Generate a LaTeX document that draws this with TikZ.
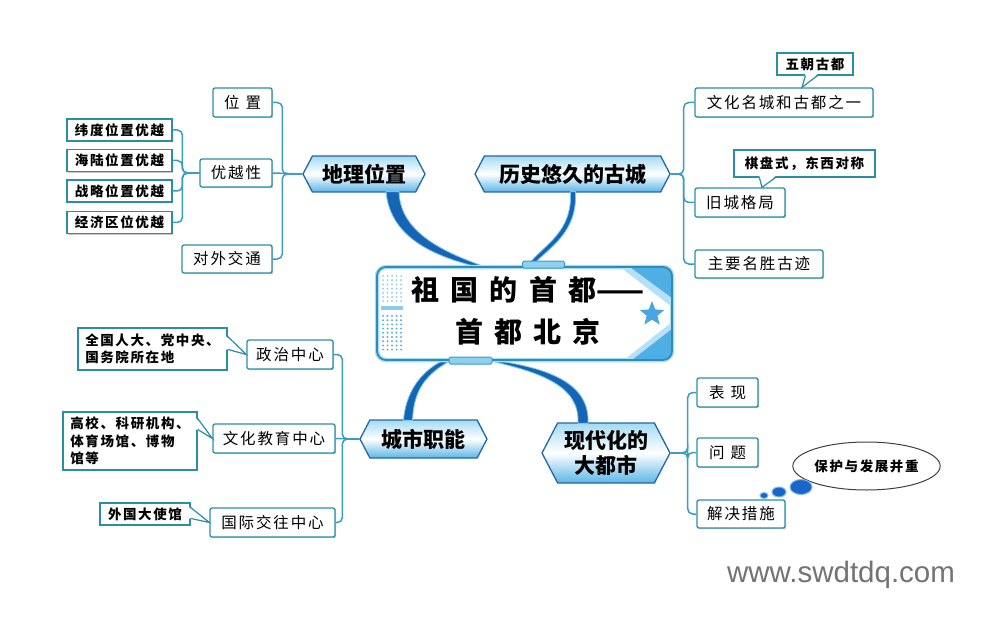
\documentclass[tikz,border=0pt]{standalone}
\usepackage{fontspec}
\setmainfont{Noto Sans CJK SC}
\newfontfamily\cjk{Noto Sans CJK SC}[LetterSpace=12]
\newfontfamily\cjkc{Noto Sans CJK SC}[LetterSpace=12]
\newfontfamily\cjkm{Noto Sans CJK SC}
\newfontfamily\cjkt{Noto Sans CJK SC}[LetterSpace=40]
\newfontfamily\wm{Liberation Sans}
\usetikzlibrary{shapes.geometric,shapes.symbols,calc,shadows}
\definecolor{leafc}{HTML}{2B8FA3}
\definecolor{connc}{HTML}{3A9CC0}
\definecolor{brc}{HTML}{2468A8}
\definecolor{tapc}{HTML}{1565B5}
\definecolor{tapl}{HTML}{7CC4EE}
\definecolor{boxc}{HTML}{2E8CB8}
\definecolor{boxglow}{HTML}{A8DDF3}
\definecolor{dotc}{HTML}{8CCBEB}
\definecolor{dotd}{HTML}{5AAEE0}
\definecolor{tric}{HTML}{4FAEE3}
\definecolor{tril}{HTML}{B5E0F5}
\definecolor{starc}{HTML}{4AA6DF}
\definecolor{bubc}{HTML}{1A66C8}
\definecolor{bube}{HTML}{7DBDEB}
\definecolor{tabc}{HTML}{8FD0EE}
\definecolor{shtop}{HTML}{A5DAF2}
\definecolor{shbot}{HTML}{5CB6E6}
\begin{document}
\begin{tikzpicture}[x=1pt,y=-1pt,
  shad/.style={drop shadow={shadow xshift=1.2pt,shadow yshift=-1.2pt,fill=black,opacity=0.22}},
  leaf/.style={shad,draw=leafc,line width=1.3pt,fill=white,rounded corners=2pt,inner sep=0pt,
    minimum height=29,font=\cjk\fontsize{15.5}{18}\selectfont},
  note/.style={shad,draw=leafc,line width=1.2pt,fill=white,inner sep=0pt,
    font=\cjkc\bfseries\fontsize{13.5}{17}\selectfont},
  branch/.style={signal,signal to=west and east,signal pointer angle=125,draw=brc,line width=1.3pt,
    top color=shtop,bottom color=shbot,middle color=white,inner sep=0pt,
    font=\cjkm\bfseries\fontsize{21}{24}\selectfont},
  conn/.style={draw=connc,line width=1.5pt,rounded corners=5pt},
  taper/.style={fill=tapc,draw=tapl,line width=0.8pt},
  ptr/.style={draw=leafc,line width=1.2pt},
  bub/.style={ellipse,fill=bubc,draw=bube,line width=1pt,inner sep=0pt}
]
\useasboundingbox (0,0) rectangle (984,620);
\fill[white] (0,0) rectangle (984,620);

% ---------- main branches ----------
\node[branch,minimum width=122,minimum height=36] (geo) at (364,174) {地理位置};
\node[branch,minimum width=195,minimum height=36] (hist) at (572.5,174) {历史悠久的古城};
\node[branch,minimum width=127,minimum height=38] (city) at (423.5,439) {城市职能};
\node[branch,minimum width=128,minimum height=60,align=center,font=\cjkm\bfseries\fontsize{21}{25}\selectfont] (modern) at (606,453) {现代化的\\大都市};

% ---------- centre box ----------
\coordinate (cnw) at (377,267);
\coordinate (cse) at (672,360);
\node[minimum width=42,minimum height=7,inner sep=0pt] (tabtop) at (543.5,264.5) {};
\node[minimum width=43,minimum height=7,inner sep=0pt] (tabbot) at (470.5,360.5) {};

% tapered connectors
\path[taper] ($(geo.south)+(22,-1)$) .. controls ($(geo.south)+(26,40)$) and ($(geo.south)+(60,62)$) .. ($(cnw)+(105,1)$)
  -- ($(cnw)+(112,1)$) .. controls ($(geo.south)+(72,58)$) and ($(geo.south)+(36,36)$) .. ($(geo.south)+(35,-1)$) -- cycle;
\path[taper] ($(hist.south)+(-2,-1)$) .. controls ($(hist.south)+(0,40)$) and ($(tabtop.west)+(22,-20)$) .. ($(tabtop.west)+(6,0)$)
  -- ($(tabtop.west)+(11,0)$) .. controls ($(tabtop.west)+(28,-18)$) and ($(hist.south)+(5,40)$) .. ($(hist.south)+(3,-1)$) -- cycle;
\path[taper] ($(tabbot.west)+(-6,0)$) .. controls ($(tabbot.west)+(-30,12)$) and ($(city.north)+(-18,-25)$) .. ($(city.north)+(-20,1)$)
  -- ($(city.north)+(-11,1)$) .. controls ($(city.north)+(-10,-28)$) and ($(tabbot.west)+(-24,14)$) .. ($(tabbot.west)+(2,0)$) -- cycle;
\path[taper] ($(tabbot.east)+(-4,0)$) .. controls ($(tabbot.east)+(50,12)$) and ($(modern.north)+(-26,-36)$) .. ($(modern.north)+(-28,1)$)
  -- ($(modern.north)+(-18,1)$) .. controls ($(modern.north)+(-16,-40)$) and ($(tabbot.east)+(55,8)$) .. ($(tabbot.east)+(4,0)$) -- cycle;

% box
\path[fill=white,draw=boxglow,line width=4.5pt,rounded corners=9pt] (cnw) rectangle (cse);
\begin{scope}
  \clip[rounded corners=9pt] (cnw) rectangle (cse);
  \fill[tril] ($(cnw)+(243,0)$) -- ($(cse|-cnw)$) -- ($(cse|-cnw)+(0,40)$) -- cycle;
  \fill[tric] ($(cnw)+(253,0)$) -- ($(cse|-cnw)$) -- ($(cse|-cnw)+(0,31)$) -- cycle;
  \fill[tril] ($(cse)+(-48,0)$) -- ($(cse)+(0,-38)$) -- (cse) -- cycle;
  \fill[tric] ($(cse)+(-40,0)$) -- ($(cse)+(0,-31)$) -- (cse) -- cycle;
  \foreach \i in {0,...,4}{
    \foreach \j in {0,...,6}{
      \fill[dotc] ($(cnw)+(6+\i*4.5,9+\j*4.2)$) circle (1pt);
    }
    \foreach \j in {0,...,8}{
      \fill[dotd] ($(cnw)+(6+\i*4.5,49+\j*4.2)$) circle (1.1pt);
    }
  }
  \fill[dotc] ($(cnw)+(4,39)$) rectangle ++(22,4);
\end{scope}
\draw[boxc,line width=1.8pt,rounded corners=9pt] (cnw) rectangle (cse);
\node[star,star points=5,star point ratio=2.3,fill=starc,minimum size=26,inner sep=0pt] (star) at ($(cse|-cnw)+(-20,47)$) {};
\node[fill=tabc,draw=connc,line width=1pt,rounded corners=1.5pt,minimum width=42,minimum height=7,inner sep=0pt] at (tabtop) {};
\node[fill=tabc,draw=connc,line width=1pt,rounded corners=1.5pt,minimum width=43,minimum height=7,inner sep=0pt] at (tabbot) {};
\node[align=center,inner sep=0pt,font=\cjkt\bfseries\fontsize{28}{42}\selectfont] (ctr) at (528,311)
  {祖国的首都{\addfontfeature{LetterSpace=0}——}\\首都北京};

% ---------- 地理位置 ----------
\node[leaf,minimum width=59] (wz) at (242.5,102.5) {位\hspace{6pt}置};
\node[leaf,minimum width=72,minimum height=28] (yx) at (236,173) {优越性};
\node[leaf,minimum width=90,minimum height=28] (dw) at (227,259) {对外交通};
\node[note,minimum width=105,minimum height=22] (s1) at (119.5,130) {纬度位置优越};
\node[note,minimum width=105,minimum height=22] (s2) at (119.5,160.5) {海陆位置优越};
\node[note,minimum width=105,minimum height=22] (s3) at (119.5,191) {战略位置优越};
\node[note,minimum width=105,minimum height=22] (s4) at (119.5,222.5) {经济区位优越};
\draw[conn] (geo.west) -- ++(-20,0) |- (wz.east);
\draw[conn] (geo.west) -- (yx.east);
\draw[conn] (geo.west) -- ++(-20,0) |- (dw.east);
\draw[conn] (yx.west) -- ++(-17,0) |- (s1.east);
\draw[conn] (yx.west) -- ++(-17,0) |- (s2.east);
\draw[conn] (yx.west) -- ++(-17,0) |- (s3.east);
\draw[conn] (yx.west) -- ++(-17,0) |- (s4.east);

% ---------- 历史悠久的古城 ----------
\node[leaf,minimum width=178] (h1) at (784,102.5) {文化名城和古都之一};
\node[leaf,minimum width=90] (h2) at (740,202.5) {旧城格局};
\node[leaf,minimum width=128,minimum height=28] (h3) at (759,264) {主要名胜古迹};
\node[note,minimum width=76,minimum height=22] (h1c) at (815,64) {五朝古都};
\node[note,minimum width=141,minimum height=27] (h2c) at (804.5,163.5) {棋盘式，东西对称};
\fill[white] ($(h1c.south west)+(29,-1.5)$) -- ($(h1.north)+(18,0)$) -- ($(h1c.south west)+(41,-1.5)$) -- cycle;
\draw[ptr] ($(h1c.south west)+(29,0)$) -- ($(h1.north)+(18,0)$) -- ($(h1c.south west)+(41,0)$);
\fill[white] ($(h2c.south west)+(26,-1.5)$) -- ($(h2.north)+(22,0)$) -- ($(h2c.south west)+(42,-1.5)$) -- cycle;
\draw[ptr] ($(h2c.south west)+(26,0)$) -- ($(h2.north)+(22,0)$) -- ($(h2c.south west)+(42,0)$);
\draw[conn] (hist.east) -- ++(13,0) |- (h1.west);
\draw[conn] (hist.east) -- ++(13,0) |- (h2.west);
\draw[conn] (hist.east) -- ++(13,0) |- (h3.west);

% ---------- 城市职能 ----------
\node[leaf,minimum width=86] (c1) at (290,354.5) {政治中心};
\node[leaf,minimum width=122] (c2) at (274,438.5) {文化教育中心};
\node[leaf,minimum width=125] (c3) at (272.5,522.5) {国际交往中心};
\node[note,minimum width=149,minimum height=42,align=left] (c1c) at (152.5,349) {全国人大、党中央、\\国务院所在地};
\node[note,minimum width=134,minimum height=58,align=left,font=\cjkc\bfseries\fontsize{13.5}{17.5}\selectfont] (c2c) at (130,441) {高校、科研机构、\\体育场馆、博物\\馆等};
\node[note,minimum width=90,minimum height=22] (c3c) at (145,514) {外国大使馆};
\fill[white] ($(c1c.north east)+(-1.5,9)$) -- (c1.west) -- ($(c1c.north east)+(-1.5,22)$) -- cycle;
\draw[ptr] ($(c1c.north east)+(0,9)$) -- (c1.west) -- ($(c1c.north east)+(0,22)$);
\fill[white] ($(c2c.north east)+(-1.5,7)$) -- (c2.west) -- ($(c2c.north east)+(-1.5,18)$) -- cycle;
\draw[ptr] ($(c2c.north east)+(0,7)$) -- (c2.west) -- ($(c2c.north east)+(0,18)$);
\fill[white] ($(c3c.north east)+(-1.5,5)$) -- (c3.west) -- ($(c3c.north east)+(-1.5,16)$) -- cycle;
\draw[ptr] ($(c3c.north east)+(0,5)$) -- (c3.west) -- ($(c3c.north east)+(0,16)$);
\draw[conn] (city.west) -- ++(-17,0) |- (c1.east);
\draw[conn] (city.west) -- (c2.east);
\draw[conn] (city.west) -- ++(-17,0) |- (c3.east);

% ---------- 现代化的大都市 ----------
\node[leaf,minimum width=61] (m1) at (727.5,392.5) {表\hspace{6pt}现};
\node[leaf,minimum width=61] (m2) at (727.5,452.5) {问\hspace{6pt}题};
\node[leaf,minimum width=88,minimum height=28] (m3) at (741,514) {解决措施};
\draw[conn] (modern.east) -- ++(17,0) |- (m1.west);
\draw[conn] (modern.east) -- ++(17,0) |- (m2.west);
\draw[conn] (modern.east) -- ++(17,0) |- (m3.west);
\node[ellipse,draw=black!75,line width=1pt,fill=white,minimum width=133,minimum height=48,inner sep=0pt,
  font=\cjkc\bfseries\fontsize{13.5}{16}\selectfont] (el) at (866.5,466) {保护与发展并重};
\node[bub,minimum width=22,minimum height=15] (b1) at (801,487) {};
\node[bub,minimum width=14,minimum height=10] (b2) at (779,492) {};
\node[bub,minimum width=8,minimum height=6] (b3) at (764,495.5) {};

% watermark
\node[font=\wm\fontsize{29.5}{32}\selectfont,text=black!55,inner sep=0pt] (wmk) at (841,575) {www.swdtdq.com};
\end{tikzpicture}
\end{document}
